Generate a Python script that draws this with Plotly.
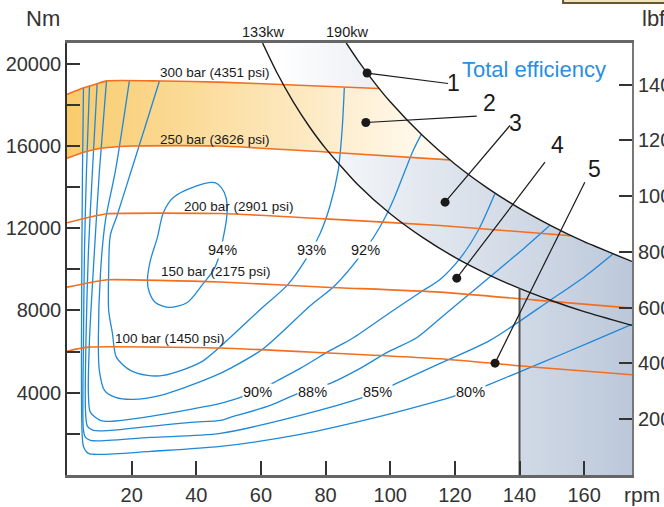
import plotly.graph_objects as go

FONT = "Liberation Sans, Arial, sans-serif"

# ---------------- axes ----------------
x_max = 174.8
y_max = 21000
x_tick_vals = [20, 40, 60, 80, 100, 120, 140, 160]
y_tick_vals = [2000, 4000, 6000, 8000, 10000, 12000, 14000, 16000, 18000, 20000]
y_tick_text = ["", "4000", "", "8000", "", "12000", "", "16000", "", "20000"]
lbf_tick_vals = [2000, 4000, 6000, 8000, 10000, 12000, 14000]
lbf_tick_text = ["2000", "4000", "6000", "8000", "10000", "12000", "14000"]
nm_per_lbfft = 1.35582

# ---------------- pressure lines (rpm, Nm) ----------------
p300_rpm = [0, 5.2, 9.3, 12.4, 30, 47, 70, 96.5]
p300_nm = [18500, 18820, 19020, 19160, 19150, 19100, 18960, 18790]
p250_rpm = [0, 5.2, 10.4, 15.5, 20.6, 47, 80, 118.4]
p250_nm = [15400, 15690, 15880, 15960, 15990, 15990, 15700, 15320]
p200_rpm = [0, 5.2, 9.3, 12.4, 47.4, 80, 115.4, 156]
p200_nm = [12260, 12470, 12610, 12700, 12710, 12450, 12130, 11630]
p150_rpm = [0, 5.2, 9.3, 12.4, 47.4, 80, 115.4, 145, 174.8]
p150_nm = [9130, 9300, 9415, 9490, 9380, 9130, 8890, 8500, 8110]
p100_rpm = [0, 3.3, 6.7, 47.4, 80, 115.4, 145, 174.8]
p100_nm = [6010, 6130, 6215, 6170, 5940, 5650, 5240, 4870]
pressure_text = ["300 bar (4351 psi)", "250 bar (3626 psi)", "200 bar (2901 psi)",
                 "150 bar (2175 psi)", "100 bar (1450 psi)"]

# ---------------- power limits (rpm, Nm) ----------------
kw133_rpm = [60.5, 65, 70, 75, 80, 90, 100, 110, 120, 130, 140, 150, 160, 174.8]
kw133_nm = [21000, 19540, 18140, 16930, 15880, 14110, 12700, 11550, 10580, 9770, 9070, 8470, 7940, 7270]
kw190_rpm = [86.4, 90, 95, 100, 110, 120, 130, 140, 150, 160, 174.8]
kw190_nm = [21000, 20160, 19100, 18140, 16500, 15120, 13960, 12960, 12100, 11340, 10380]
power_text = ["133kw", "190kw"]
boundary_rpm = 140

# ---------------- efficiency contours (rpm, Nm) ----------------
e94_rpm = [44.96, 39.71, 32.91, 29.82, 27.97, 25.80, 24.88, 25.49, 27.35, 31.37, 37.24, 42.18,
           45.27, 47.13, 48.36, 49.29, 49.60, 48.67, 46.82, 44.96]
e94_nm = [14220, 14026, 13491, 12762, 11548, 10430, 9458, 8875, 8389, 8146, 8389, 9312,
          9944, 10673, 11548, 12374, 13103, 13734, 14123, 14220]
e93_rpm = [28.6, 24.3, 19.9, 15.5, 13.4, 12.9, 12.9, 14.06, 15.3, 19.6, 24.9, 29.8, 41.3, 50.5,
           59.8, 68.1, 73.7, 78.3, 81.4, 83.9, 85.1, 85.8]
e93_nm = [19150, 16990, 14804, 12617, 11645, 9944, 8000, 6884, 5715, 5084, 4841, 4841, 5472, 6687,
          8048, 9215, 10430, 11742, 13103, 14804, 16748, 18830]
e92_rpm = [19.3, 15.0, 11.9, 10.4, 9.7, 10.0, 11.6, 15.0, 20.5, 28.9, 38.2, 47.4, 50.5, 60.4,
           75.25, 82.9, 92.25, 96.9, 100.9, 104.6, 107.1, 109.6]
e92_nm = [19160, 14804, 12374, 9944, 6542, 5084, 4112, 3771, 3674, 3869, 4355, 4938, 5181, 6105,
          8228, 9215, 10965, 12082, 13346, 14804, 15776, 16560]
e90_rpm = [12.21, 10.04, 8.50, 6.95, 6.64, 7.26, 10.35, 13.44, 25.80, 38.16, 47.44, 54.54, 58.87,
           63.50, 72.16, 81.43, 88.23, 99.97, 109.24, 115.42, 121.6, 127.2, 132.4]
e90_nm = [19160, 14804, 10916, 6542, 3869, 3042, 2654, 2605, 2848, 3188, 3480, 3820, 4039,
          4452, 5181, 6056, 6639, 7902, 8875, 9506, 10527, 11888, 13690]
e88_rpm = [9.33, 7.88, 6.64, 5.87, 5.72, 6.34, 8.19, 13.44, 25.8, 38.16, 47.44, 50.53, 62.89,
           71.54, 81.43, 90.70, 99.04, 108.31, 115.42, 124.69, 133.96, 141.69, 149.41]
e88_nm = [19030, 14804, 10916, 6542, 3140, 2362, 2167, 2167, 2362, 2557, 2654, 2799, 3383,
          3966, 4452, 5181, 5959, 6687, 7611, 8826, 10041, 11062, 12140]
e85_rpm = [6.95, 6.03, 5.41, 5.10, 5.10, 5.72, 7.26, 9.43, 25.80, 47.44, 72.16, 91.63, 96.1,
           100.59, 115.42, 130.87, 149.41, 160.23, 168.9]
e85_nm = [18910, 14804, 10916, 6542, 2167, 1827, 1681, 1657, 1827, 2022, 2897, 3771, 4040,
          4355, 5424, 6542, 8486, 9652, 10744]
e80_rpm = [5.10, 4.79, 4.48, 4.64, 5.10, 6.64, 10.35, 25.80, 47.44, 72.16, 96.88, 115.42, 120.67,
           124.9, 129.94, 146.32, 161.77, 174.75]
e80_nm = [18830, 14804, 6542, 2167, 1389, 1050, 1001, 1147, 1389, 1973, 2848, 3626, 3869,
          4040, 4355, 5424, 6444, 7320]
eff_text = ["94%", "93%", "92%", "90%", "88%", "85%", "80%"]

# ---------------- callouts ----------------
callout_text = ["1", "2", "3", "4", "5"]
callout_dot_rpm = [92.86, 92.46, 116.97, 120.58, 132.42]
callout_dot_nm = [19540, 17136, 13263, 9569, 5438]

# ================= layout constants (positions / styles) =================
ORANGE = "#f26f1f"
BLUE = "#1f88d8"
BLACK = "#1a1a1a"
TXT = "#333333"
pressure_pos = [(28.3, 19543), (28.3, 16287), (35.6, 13055), (28.4, 9871), (14.3, 6640)]
eff_pos = [(48.2, 10940), (75.7, 10940), (92.2, 10940), (58.8, 4040), (75.8, 4040),
           (96.1, 4040), (124.9, 4040)]
callout_end = [(117.9, 19032), (126.76, 17443), (137.05, 16991), (147.87, 15207), (160.2, 14235)]
callout_lbl = [(119.6, 19080), (130.56, 18084), (138.9, 17131), (151.6, 16019), (163.3, 14852)]
power_lbl_rpm = [60.6, 86.6]

fig = go.Figure()

# blue shaded region (between power curves and beyond boundary rpm)
left_part = [(r, n) for r, n in zip(kw133_rpm, kw133_nm) if r <= boundary_rpm][::-1]
blue_x = kw190_rpm + [x_max, boundary_rpm] + [p[0] for p in left_part]
blue_y = kw190_nm + [0, 0] + [p[1] for p in left_part]
fig.add_trace(go.Scatter(
    x=blue_x, y=blue_y, mode="lines", line=dict(width=0), fill="toself",
    fillgradient=dict(type="horizontal", start=64, stop=x_max,
                      colorscale=[[0, "rgb(255,255,255)"], [1, "rgb(188,200,218)"]]),
    hoverinfo="skip", showlegend=False))

# yellow band between 250 and 300 bar
mid_r = [r for r in kw190_rpm if p300_rpm[-1] < r < p250_rpm[-1]]
mid_n = [n for r, n in zip(kw190_rpm, kw190_nm) if p300_rpm[-1] < r < p250_rpm[-1]]
band_x = p300_rpm + mid_r + p250_rpm[::-1]
band_y = p300_nm + mid_n + p250_nm[::-1]
fig.add_trace(go.Scatter(
    x=band_x, y=band_y, mode="lines", line=dict(width=0), fill="toself",
    fillgradient=dict(type="horizontal", start=0, stop=118,
                      colorscale=[[0, "rgb(249,203,108)"], [1, "rgb(255,252,246)"]]),
    hoverinfo="skip", showlegend=False))

# efficiency contours
for xs, ys in [(e94_rpm, e94_nm), (e93_rpm, e93_nm), (e92_rpm, e92_nm), (e90_rpm, e90_nm),
               (e88_rpm, e88_nm), (e85_rpm, e85_nm), (e80_rpm, e80_nm)]:
    fig.add_trace(go.Scatter(x=xs, y=ys, mode="lines",
                             line=dict(color=BLUE, width=1.3, shape="spline", smoothing=0.8),
                             hoverinfo="skip", showlegend=False))

# pressure lines
for xs, ys in [(p300_rpm, p300_nm), (p250_rpm, p250_nm), (p200_rpm, p200_nm),
               (p150_rpm, p150_nm), (p100_rpm, p100_nm)]:
    fig.add_trace(go.Scatter(x=xs, y=ys, mode="lines",
                             line=dict(color=ORANGE, width=1.6, shape="spline", smoothing=0.6),
                             hoverinfo="skip", showlegend=False))

# power curves
for xs, ys in [(kw133_rpm, kw133_nm), (kw190_rpm, kw190_nm)]:
    fig.add_trace(go.Scatter(x=xs, y=ys, mode="lines",
                             line=dict(color=BLACK, width=1.4, shape="spline", smoothing=0.6),
                             hoverinfo="skip", showlegend=False))

# boundary vertical line
b_top = [n for r, n in zip(kw133_rpm, kw133_nm) if r == boundary_rpm][0]
fig.add_trace(go.Scatter(x=[boundary_rpm, boundary_rpm], y=[0, b_top], mode="lines",
                         line=dict(color="#555555", width=2), hoverinfo="skip", showlegend=False))

# callout lines and dots
for (dx, dy), (ex, ey) in zip(zip(callout_dot_rpm, callout_dot_nm), callout_end):
    fig.add_trace(go.Scatter(x=[dx, ex], y=[dy, ey], mode="lines",
                             line=dict(color=BLACK, width=1.2), hoverinfo="skip", showlegend=False))
fig.add_trace(go.Scatter(x=callout_dot_rpm, y=callout_dot_nm, mode="markers",
                         marker=dict(color=BLACK, size=9), hoverinfo="skip", showlegend=False))

ann = []
for t, (x, y) in zip(pressure_text, pressure_pos):
    ann.append(dict(x=x, y=y, text=t, showarrow=False, xanchor="left", yanchor="middle",
                    font=dict(family=FONT, size=13.5, color=BLACK)))
for t, (x, y) in zip(eff_text, eff_pos):
    ann.append(dict(x=x, y=y, text=t, showarrow=False, xanchor="center", yanchor="middle",
                    bgcolor="white", borderpad=0, font=dict(family=FONT, size=14.5, color=BLACK)))
for t, (x, y) in zip(callout_text, callout_lbl):
    ann.append(dict(x=x, y=y, text=t, showarrow=False, xanchor="center", yanchor="middle",
                    font=dict(family=FONT, size=23, color=BLACK)))
for t, x in zip(power_text, power_lbl_rpm):
    ann.append(dict(x=x, y=1.025, yref="paper", text=t, showarrow=False, xanchor="center",
                    yanchor="middle", font=dict(family=FONT, size=14.5, color=BLACK)))
ann.append(dict(x=144.5, y=19712, text="Total efficiency", showarrow=False, xanchor="center",
                yanchor="middle", font=dict(family=FONT, size=22, color="#2a8fe0")))
ann.append(dict(x=-0.0425, y=1.056, xref="paper", yref="paper", text="Nm", showarrow=False,
                xanchor="center", yanchor="middle", font=dict(family=FONT, size=22, color=TXT)))
ann.append(dict(x=1.0142, y=1.056, xref="paper", yref="paper", text="lbf ft", showarrow=False,
                xanchor="left", yanchor="middle", font=dict(family=FONT, size=22, color=TXT)))
ann.append(dict(x=1.0177, y=-0.044, xref="paper", yref="paper", text="rpm", showarrow=False,
                xanchor="center", yanchor="middle", font=dict(family=FONT, size=21, color=TXT)))
ann.append(dict(x=-3.6, y=-0.044, yref="paper", text="0", showarrow=False,
                xanchor="center", yanchor="middle", font=dict(family=FONT, size=20, color=TXT)))

fig.update_layout(
    width=664, height=507,
    margin=dict(l=67, r=32, t=43, b=32, autoexpand=False),
    plot_bgcolor="white", paper_bgcolor="white",
    showlegend=False,
    annotations=ann,
    shapes=[dict(type="rect", xref="paper", yref="paper", x0=0.878, x1=1.08, y0=1.0926, y1=1.12,
                 line=dict(color="#6b5530", width=2), fillcolor="#efe3c0", layer="above")],
    xaxis=dict(range=[0, x_max], tickvals=x_tick_vals, ticks="inside", ticklen=14,
               tickwidth=1.5, tickcolor=TXT, showline=True, linecolor="#666", linewidth=2.5,
               mirror=True, showgrid=False, zeroline=False, automargin=False,
               tickfont=dict(family=FONT, size=20, color=TXT)),
    yaxis=dict(range=[0, y_max], tickvals=y_tick_vals, ticktext=y_tick_text, ticks="inside",
               ticklen=13, tickwidth=1.5, tickcolor=TXT, showline=True, linecolor=TXT,
               linewidth=1.5, showgrid=False, zeroline=False, automargin=False,
               tickfont=dict(family=FONT, size=20, color=TXT)),
    yaxis2=dict(range=[0, y_max / nm_per_lbfft], overlaying="y", side="right",
                tickvals=lbf_tick_vals, ticktext=lbf_tick_text, ticks="inside", ticklen=13,
                tickwidth=1.5, tickcolor=TXT, showline=True, linecolor="#777", linewidth=2,
                showgrid=False, zeroline=False, automargin=False,
                tickfont=dict(family=FONT, size=20, color=TXT)),
)
# invisible trace to activate the right axis
fig.add_trace(go.Scatter(x=[0], y=[0], yaxis="y2", mode="markers", marker=dict(opacity=0),
                         hoverinfo="skip", showlegend=False))

fig.write_html("out.html", config={"displayModeBar": False},
               post_script="document.body.style.margin='0';")
